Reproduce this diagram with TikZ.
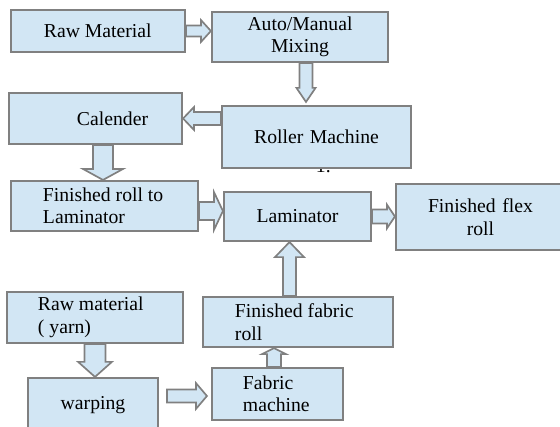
\documentclass[tikz,border=0pt]{standalone}
\usepackage{fontspec}
\setmainfont{Liberation Serif}
\usetikzlibrary{calc}

\begin{document}
\begin{tikzpicture}[x=0.025cm, y=-0.025cm,
    box/.style={draw=lgray, fill=bblue, line width=1.5pt, inner xsep=0pt, inner ysep=1pt,
      font=\fontsize{14}{16}\selectfont},
    flow/.style n args={3}{draw=lgray, fill=bblue, line width=1.2pt,
      to path={let \p1=(\tikztostart), \p2=(\tikztotarget),
        \n1={atan2(\y2-\y1,\x2-\x1)}, \n2={veclen(\x2-\x1,\y2-\y1)} in
        ($(\p1)+(\n1+90:#1)$)
        -- ($(\p1)+(\n1:{\n2*1pt-#3})+(\n1+90:#1)$)
        -- ($(\p1)+(\n1:{\n2*1pt-#3})+(\n1+90:#2)$)
        -- (\p2)
        -- ($(\p1)+(\n1:{\n2*1pt-#3})+(\n1-90:#2)$)
        -- ($(\p1)+(\n1:{\n2*1pt-#3})+(\n1-90:#1)$)
        -- ($(\p1)+(\n1-90:#1)$) -- cycle}}]
    \definecolor{bblue}{RGB}{210,230,244}
    \definecolor{lgray}{RGB}{128,128,128}
    \clip (0,0) rectangle (560,427);
    % upper chain
    \node[box, text width=4.35cm, minimum height=1.05cm, align=flush left] (raw) at (98,31) {\hspace*{0.825cm}Raw Material};
    \node[box, text width=4.4cm, minimum height=1.25cm, align=center] (mix) at (300,37) {Auto/Manual\\Mixing};
    \node[font=\fontsize{14}{16}\selectfont, anchor=base west] (frag) at (311,173) {1.};
    \node[box, text width=4.725cm, minimum height=1.55cm, align=center] (roller) at (316.5,137) {Roller Machine};
    \node[box, text width=4.325cm, minimum height=1.275cm, align=flush left] (cal) at (95.5,118.5) {\hspace*{1.7cm}Calender};
    \node[box, text width=4.675cm, minimum height=1.25cm, align=flush left] (fin) at (104.5,206) {\hspace*{0.8cm}Finished roll to\\\hspace*{0.8cm}Laminator};
    \node[box, text width=3.675cm, minimum height=1.225cm, align=center] (lam) at (297.5,216.5) {Laminator};
    \node[box, text width=4.225cm, minimum height=1.65cm, align=center] (flex) at (480.5,217) {Finished flex\\roll};
    % lower chain
    \node[box, text width=4.4cm, minimum height=1.275cm, align=flush left] (yarn) at (95,317.5) {\hspace*{0.775cm}Raw material\\\hspace*{0.775cm}( yarn)};
    \node[box, text width=3.25cm, minimum height=1.35cm, align=center] (warp) at (93,405) {warping};
    \node[box, text width=3.275cm, minimum height=1.3cm, align=flush left] (fabm) at (277.5,394) {\hspace*{0.775cm}Fabric\\\hspace*{0.775cm}machine};
    \node[box, text width=4.75cm, minimum height=1.25cm, align=flush left] (froll) at (298,322) {\hspace*{0.8cm}Finished fabric\\\hspace*{0.8cm}roll};
    % arrows
    \draw[flow={3.9pt}{7.8pt}{7.1pt}] (raw.east) to (raw.east -| mix.west);
    \draw[flow={4.6pt}{6.8pt}{10pt}] ($(mix.south)+(6,0)$) to ($(roller.north -| mix.south)+(6,-3)$);
    \draw[flow={4.6pt}{8.2pt}{7.8pt}] (roller.west |- cal.east) to (cal.east);
    \draw[flow={7.1pt}{14.2pt}{7.8pt}] ($(cal.south)+(7.5,0)$) to ($(fin.north -| cal.south)+(7.5,0)$);
    \draw[flow={6.4pt}{13.5pt}{6.4pt}] ($(fin.east)+(0,5)$) to ($(fin.east -| lam.west)+(0,5)$);
    \draw[flow={5pt}{8.5pt}{5.7pt}] (lam.east) to (lam.east -| flex.west);
    \draw[flow={4.6pt}{10.3pt}{10.7pt}] ($(froll.north)+(-8.5,0)$) to ($(lam.south -| froll.north)+(-8.5,0)$);
    \draw[flow={7.5pt}{12pt}{10.7pt}] (yarn.south) to (warp.north -| yarn.south);
    \draw[flow={4.6pt}{9.2pt}{7.8pt}] ($(warp.east |- fabm.west)+(8,2)$) to ($(fabm.west)+(-4,2)$);
    \draw[flow={5pt}{8.5pt}{4.3pt}] ($(fabm.north)+(-3.5,0)$) to ($(froll.south -| fabm.north)+(-3.5,0)$);
\end{tikzpicture}
\end{document}
